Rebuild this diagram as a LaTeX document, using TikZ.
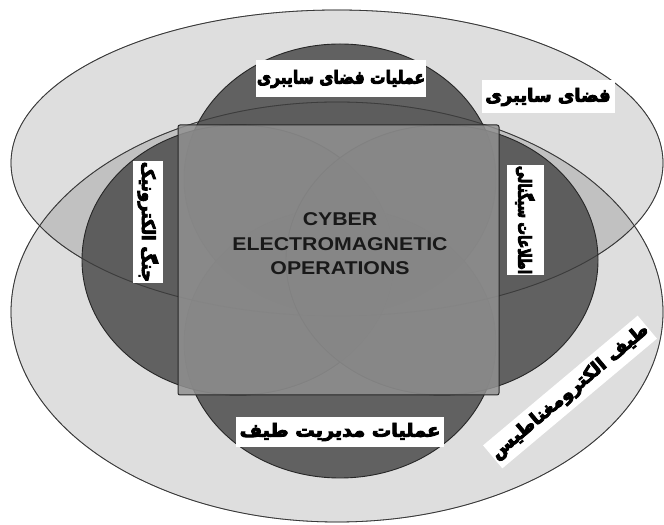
\documentclass[tikz,border=0pt]{standalone}
\usepackage{fontspec}
\usepackage{graphicx}
\setmainfont{Liberation Sans}
\newfontfamily\farsi[Script=Arabic]{DejaVu Sans}
\TeXXeTstate=1
\usepackage{tikz}
\newcommand{\heavy}[1]{\special{pdf:literal direct 2 Tr 0.9 w}#1\special{pdf:literal direct 0 Tr}}
\tikzset{
  spacefill/.style={fill=black, fill opacity=0.13, draw=black!75, line width=0.8pt},
  spaceline/.style={draw=black!80, draw opacity=0.6, line width=0.8pt},
  opfill/.style={fill=black!70, fill opacity=0.85, draw=black!85, line width=0.9pt},
  fatag/.style={fill=white, inner sep=1pt, font=\farsi\bfseries\fontsize{18bp}{20bp}\selectfont},
}

\begin{document}
\begin{tikzpicture}[x=1bp,y=1bp]
  \useasboundingbox[fill=white] (0,0) rectangle (664,525);

  \coordinate (cyb) at (337,362);
  \coordinate (ems) at (337,213);
  \coordinate (cyo) at (340,346);
  \coordinate (smo) at (340,182);
  \coordinate (ew) at (238,265);
  \coordinate (sig) at (442,265);

  % the two domains
  \path[spacefill] (cyb) ellipse [x radius=326, y radius=153];
  \path[spacefill] (ems) ellipse [x radius=326, y radius=210];

  % the four operations
  \foreach \c in {cyo,smo,ew,sig}
    \path[opfill] (\c) ellipse [x radius=156, y radius=135];

  \path[spaceline] (cyb) ellipse [x radius=326, y radius=153];
  \path[spaceline] (ems) ellipse [x radius=326, y radius=210];

  \path[fill=black!43, fill opacity=0.85, draw=black!85, line width=1pt,
        rounded corners=2pt] (178,130) rectangle (499,400);

  \node[xscale=1.15, align=center, text=black!90, font=\bfseries\fontsize{18.5bp}{24.5bp}\selectfont]
    (cemo) at (340,281) {CYBER\\ELECTROMAGNETIC\\OPERATIONS};

  \node[fatag, minimum width=170bp, minimum height=37bp] (tcyo) at (341,446)
    {\scalebox{0.86}[1]{\heavy{\beginR عملیات فضای سایبری\endR}}};
  \node[fatag, minimum width=133bp, minimum height=33bp] (tcyb) at (548,428)
    {\heavy{\beginR فضای سایبری\endR}};
  \node[fatag, rotate=-90, minimum width=115bp, minimum height=30bp] (tew) at (148,303)
    {\scalebox{0.92}[1]{\heavy{\beginR جنگ الکترونیک\endR}}};
  \node[fatag, rotate=-90, minimum width=110bp, minimum height=37bp] (tsig) at (525,305)
    {\scalebox{0.7}[1]{\heavy{\beginR اطلاعات سیگنالی\endR}}};
  \node[fatag, minimum width=208bp, minimum height=30bp] (tsmo) at (340,93)
    {\scalebox{1.07}[1]{\heavy{\beginR عملیات مدیریت طیف\endR}}};
  \node[fatag, rotate=40, minimum width=200bp, minimum height=30bp] (tems) at (570,133)
    {\scalebox{1.05}[1]{\heavy{\beginR طیف الکترومغناطیس\endR}}};
\end{tikzpicture}
\end{document}
